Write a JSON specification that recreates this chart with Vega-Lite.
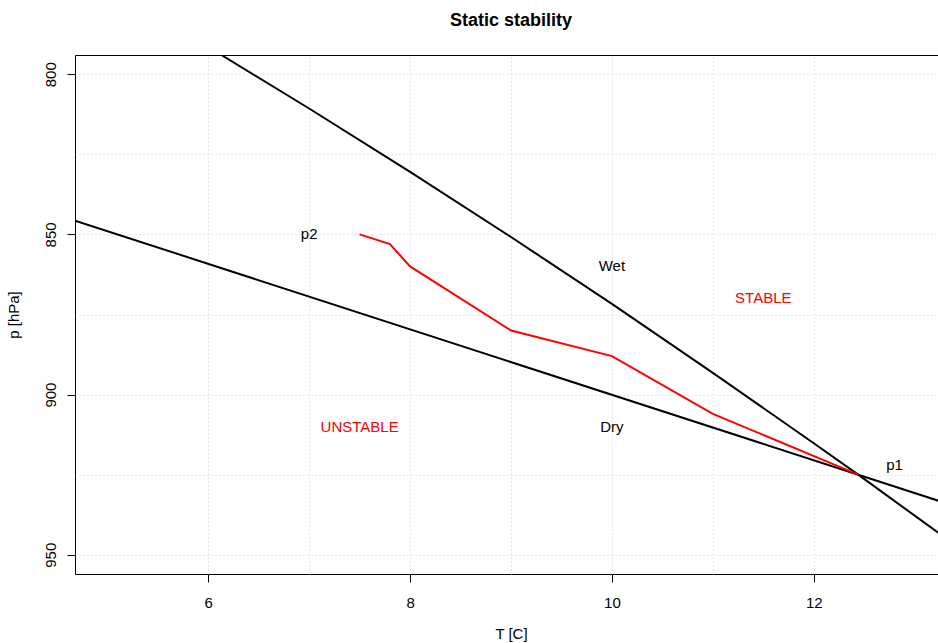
{
  "$schema": "https://vega.github.io/schema/vega-lite/v6.json",
  "width": 872,
  "height": 519,
  "autosize": {"type": "none"},
  "padding": {"left": 75, "top": 55, "right": 0, "bottom": 69},
  "background": "white",
  "title": {
    "text": "Static stability",
    "font": "Liberation Sans",
    "fontSize": 18,
    "fontWeight": "bold",
    "color": "black",
    "anchor": "middle",
    "frame": "group",
    "baseline": "bottom",
    "offset": 7
  },
  "config": {
    "view": {"stroke": "black", "strokeWidth": 1},
    "axis": {
      "labelFont": "Liberation Sans",
      "labelFontSize": 15,
      "labelColor": "black",
      "titleFont": "Liberation Sans",
      "titleFontSize": 15,
      "titleFontWeight": "normal",
      "titleColor": "black",
      "domain": false,
      "tickColor": "black",
      "tickSize": 8,
      "tickWidth": 1,
      "gridColor": "#cfcfcf",
      "gridDash": [1, 3],
      "gridWidth": 1
    }
  },
  "datasets": {
    "lines": [
      {"series": "Dry", "i": 0, "T": 4.68, "p": 845.7},
      {"series": "Dry", "i": 1, "T": 13.32, "p": 934.0},
      {"series": "Wet", "i": 0, "T": 6.13, "p": 794.0},
      {"series": "Wet", "i": 1, "T": 7.0, "p": 810.7},
      {"series": "Wet", "i": 2, "T": 8.0, "p": 830.5},
      {"series": "Wet", "i": 3, "T": 9.0, "p": 850.8},
      {"series": "Wet", "i": 4, "T": 10.0, "p": 871.7},
      {"series": "Wet", "i": 5, "T": 11.0, "p": 893.2},
      {"series": "Wet", "i": 6, "T": 12.0, "p": 915.2},
      {"series": "Wet", "i": 7, "T": 12.44, "p": 925.0},
      {"series": "Wet", "i": 8, "T": 13.32, "p": 945.1},
      {"series": "Profile", "i": 0, "T": 7.5, "p": 850},
      {"series": "Profile", "i": 1, "T": 7.8, "p": 853},
      {"series": "Profile", "i": 2, "T": 8.0, "p": 860},
      {"series": "Profile", "i": 3, "T": 9.0, "p": 880},
      {"series": "Profile", "i": 4, "T": 10.0, "p": 888},
      {"series": "Profile", "i": 5, "T": 11.0, "p": 906},
      {"series": "Profile", "i": 6, "T": 12.44, "p": 925}
    ],
    "blackLabels": [
      {"label": "p2", "T": 7.0, "p": 850},
      {"label": "Wet", "T": 10.0, "p": 860},
      {"label": "Dry", "T": 10.0, "p": 910},
      {"label": "p1", "T": 12.8, "p": 922}
    ],
    "redLabels": [
      {"label": "STABLE", "T": 11.5, "p": 870},
      {"label": "UNSTABLE", "T": 7.5, "p": 910}
    ]
  },
  "layer": [
    {
      "data": {"name": "lines"},
      "mark": {"type": "line", "clip": true, "strokeWidth": 2},
      "encoding": {
        "x": {
          "field": "T",
          "type": "quantitative",
          "scale": {"domain": [4.68, 13.32], "nice": false, "zero": false},
          "axis": {
            "title": "T [C]",
            "values": [6, 7, 8, 9, 10, 11, 12],
            "labelExpr": "datum.value % 2 === 0 ? format(datum.value, 'd') : ''",
            "tickOpacity": {"condition": {"test": "datum.value % 2 !== 0", "value": 0}, "value": 1},
            "labelPadding": 13,
            "titlePadding": 16
          }
        },
        "y": {
          "field": "p",
          "type": "quantitative",
          "scale": {"domain": [794, 956], "nice": false, "zero": false, "reverse": true},
          "axis": {
            "title": "p [hPa]",
            "values": [800, 825, 850, 875, 900, 925, 950],
            "labelExpr": "datum.value % 50 === 0 ? format(datum.value, 'd') : ''",
            "tickOpacity": {"condition": {"test": "datum.value % 50 !== 0", "value": 0}, "value": 1},
            "labelAngle": -90,
            "labelAlign": "center",
            "labelBaseline": "alphabetic",
            "labelPadding": 12,
            "titlePadding": 22
          }
        },
        "color": {
          "field": "series",
          "type": "nominal",
          "scale": {"domain": ["Dry", "Wet", "Profile"], "range": ["black", "black", "#ff0000"]},
          "legend": null
        },
        "detail": {"field": "series"},
        "order": {"field": "i", "type": "quantitative"}
      }
    },
    {
      "data": {"name": "blackLabels"},
      "mark": {"type": "text", "font": "Liberation Sans", "fontSize": 15, "color": "black", "align": "center", "baseline": "middle"},
      "encoding": {
        "x": {"field": "T", "type": "quantitative"},
        "y": {"field": "p", "type": "quantitative"},
        "text": {"field": "label"}
      }
    },
    {
      "data": {"name": "redLabels"},
      "mark": {"type": "text", "font": "Liberation Sans", "fontSize": 15, "color": "#ff0000", "align": "center", "baseline": "middle"},
      "encoding": {
        "x": {"field": "T", "type": "quantitative"},
        "y": {"field": "p", "type": "quantitative"},
        "text": {"field": "label"}
      }
    }
  ]
}
